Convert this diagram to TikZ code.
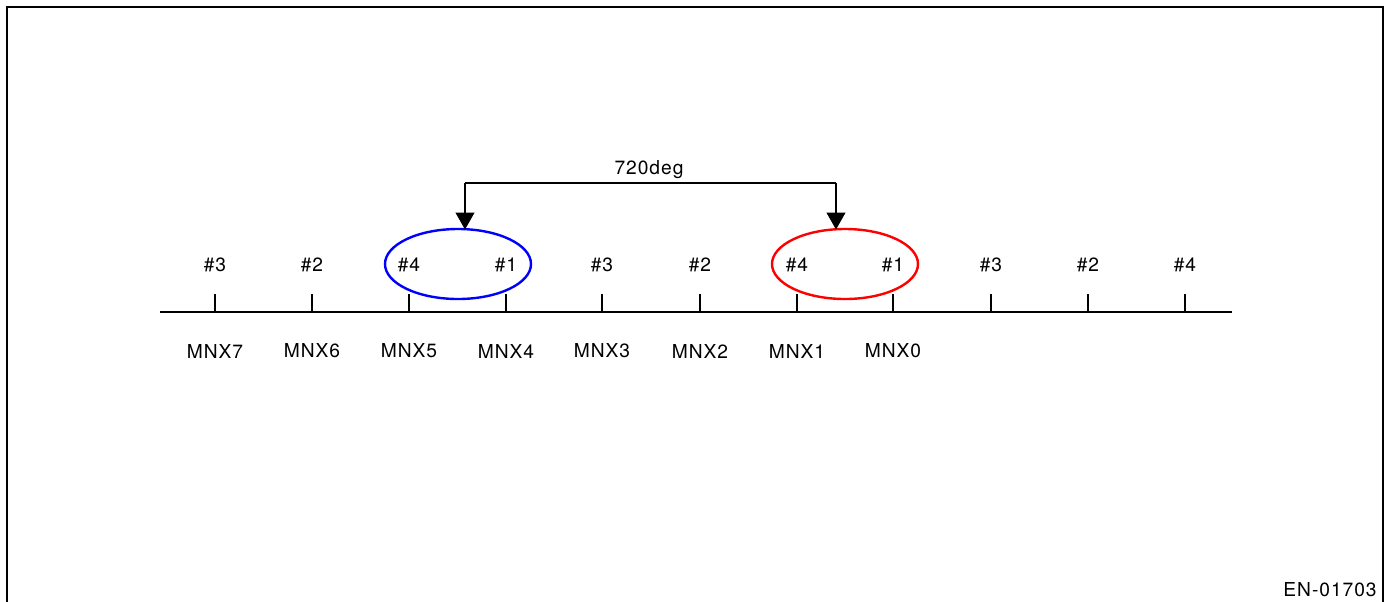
\documentclass[tikz,border=0pt]{standalone}
\usepackage{fontspec}
\setmainfont[LetterSpace=5]{TeX Gyre Heros}
\usetikzlibrary{shapes.geometric,arrows.meta}
\begin{document}
\begin{tikzpicture}[x=0.5pt,y=-0.5pt,
  lbl/.style={inner sep=0pt,font=\fontsize{9.6}{11}\selectfont},
  ring/.style={ellipse,draw,line width=1.2pt,minimum width=73pt,minimum height=35pt,inner sep=0pt},
  tick/.style={line width=0.6pt},
  arr/.style={line width=0.6pt,-{Triangle[length=8.5pt,width=9.5pt]}}]
\useasboundingbox (0,0) rectangle (1388,601);
\draw[line width=1pt] (7,603) -- (7,7) -- (1383,7) -- (1383,603);
% ellipses
\node[ring,draw=blue] (blue) at (458,264) {};
\node[ring,draw=red] (red) at (845,264) {};
% axis
\coordinate (axL) at (160,312);
\coordinate (axR) at (1232,312);
\draw[line width=0.7pt] (axL) -- (axR);
\foreach \i/\x/\t in {0/215/\#3,1/312/\#2,2/409/\#4,3/506/\#1,4/602/\#3,5/700/\#2,6/797/\#4,7/893/\#1,8/991/\#3,9/1088/\#2,10/1185/\#4}{
  \coordinate (tb\i) at (\x,312);
  \coordinate (tt\i) at (\x,294);
  \draw[tick] (tb\i) -- (tt\i);
  \node[lbl] (cyl\i) at (\x,265) {\t};
}
\foreach \i/\x/\t in {0/215/MNX7,1/312/MNX6,2/409/MNX5,3/506/MNX4,4/602/MNX3,5/700/MNX2,6/797/MNX1,7/893/MNX0}{
  \node[lbl] (mnx\i) at (\x,351) {\t};
}
% 720deg bracket
\coordinate (bl) at (465,183);
\coordinate (br) at (836,183);
\coordinate (blt) at (465,229.5);
\coordinate (brt) at (836,229.5);
\draw[line width=0.6pt] (bl) -- (br);
\draw[arr] (bl) -- (blt);
\draw[arr] (br) -- (brt);
\node[lbl] (deg) at (649,170) {720deg};
\node[lbl] (code) at (1330,590) {EN-01703};
\end{tikzpicture}
\end{document}
